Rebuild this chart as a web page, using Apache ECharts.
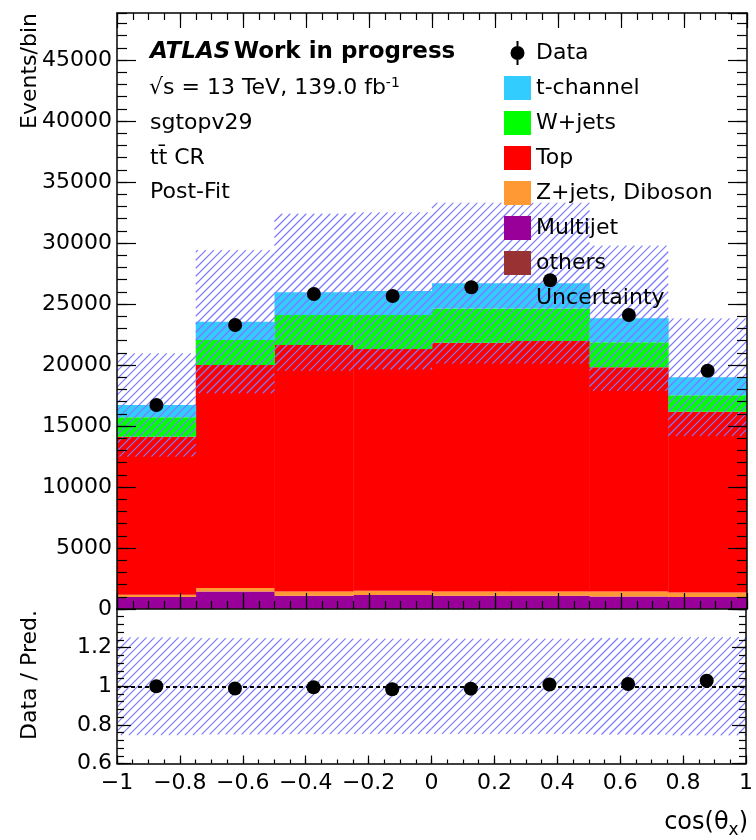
<!DOCTYPE html>
<html>
<head>
<meta charset="utf-8">
<script src="https://cdn.jsdelivr.net/npm/echarts@6/dist/echarts.min.js"></script>
<style>
  html, body { margin: 0; padding: 0; background: #ffffff; }
  #chart { width: 756px; height: 840px; }
</style>
</head>
<body>
<div id="chart"></div>
<script>
// Binning in cos(theta_x)
const binEdges = [-1, -0.75, -0.5, -0.25, 0, 0.25, 0.5, 0.75, 1];

// Observed events per bin
const dataCounts = [16720, 23280, 25820, 25660, 26370, 26950, 24100, 19530];

// Post-fit prediction, per process (events per bin)
const others       = [15, 20, 20, 20, 20, 20, 20, 15];
const multijet     = [970, 1420, 1070, 1120, 1070, 1070, 1010, 960];
const zjetsDiboson = [190, 280, 350, 350, 350, 350, 410, 380];
const topQuark     = [12950, 18280, 20200, 19820, 20390, 20530, 18370, 14820];
const wjets        = [1590, 2050, 2460, 2790, 2790, 2650, 2050, 1340];
const tchannel     = [1010, 1500, 1860, 1970, 2080, 2080, 1970, 1480];

// Relative total uncertainty of the prediction per bin
const relUncertainty = [0.253, 0.249, 0.248, 0.247, 0.247, 0.247, 0.250, 0.254];

// Axis ranges
const mainYMax = 48850;
const ratioYMin = 0.6;
const ratioYMax = 1.4;

const FONT = '"DejaVu Sans", "Liberation Sans", sans-serif';
const HATCH_COLOR = 'rgb(122,122,252)';
const HATCH_STEP = 8;

// Rectangle for one bin: value = [xLow, xHigh, yLow, yHigh]
function binRect(fill) {
  return function (params, api) {
    const p0 = api.coord([api.value(0), api.value(3)]);
    const p1 = api.coord([api.value(1), api.value(2)]);
    return {
      type: 'rect',
      shape: { x: p0[0], y: p0[1], width: p1[0] - p0[0] + 0.4, height: p1[1] - p0[1] },
      style: { fill: fill }
    };
  };
}

// Hatched box for one bin: diagonal "/" lines on a fixed page grid so that
// neighbouring bins line up
function binHatch(params, api) {
  const p0 = api.coord([api.value(0), api.value(3)]);
  const p1 = api.coord([api.value(1), api.value(2)]);
  const x0 = p0[0], y0 = p0[1], x1 = p1[0], y1 = p1[1];
  const children = [];
  const kMin = Math.ceil((x0 + y0) / HATCH_STEP);
  const kMax = Math.floor((x1 + y1) / HATCH_STEP);
  for (let k = kMin; k <= kMax; k++) {
    const c = k * HATCH_STEP;
    const xa = Math.max(x0, c - y1);
    const xb = Math.min(x1, c - y0);
    if (xb <= xa) continue;
    children.push({
      type: 'line',
      shape: { x1: xa, y1: c - xa, x2: xb, y2: c - xb },
      style: { stroke: HATCH_COLOR, lineWidth: 1.15 }
    });
  }
  return { type: 'group', children: children };
}

// Stack order, bottom to top
const components = [
  { name: 'others',          values: others,       color: '#993333' },
  { name: 'Multijet',        values: multijet,     color: '#990099' },
  { name: 'Z+jets, Diboson', values: zjetsDiboson, color: '#ff9933' },
  { name: 'Top',             values: topQuark,     color: '#ff0000' },
  { name: 'W+jets',          values: wjets,        color: '#00ff00' },
  { name: 't-channel',       values: tchannel,     color: '#33ccff' }
];

const nBins = binEdges.length - 1;
const stackTop = new Array(nBins).fill(0);
const stackSeries = components.map(function (c) {
  const rows = c.values.map(function (v, i) {
    const row = [binEdges[i], binEdges[i + 1], stackTop[i], stackTop[i] + v];
    stackTop[i] += v;
    return row;
  });
  return {
    type: 'custom', name: c.name, xAxisIndex: 0, yAxisIndex: 0,
    renderItem: binRect(c.color), data: rows, clip: true,
    encode: { x: [0, 1], y: [2, 3] },
    itemStyle: { color: c.color, opacity: 1 }, z: 2, silent: true
  };
});
const prediction = stackTop;

const binCenters = binEdges.slice(0, -1).map(function (e, i) { return (e + binEdges[i + 1]) / 2; });

const bandMain = prediction.map(function (p, i) {
  return [binEdges[i], binEdges[i + 1], p * (1 - relUncertainty[i]), p * (1 + relUncertainty[i])];
});
const bandRatio = relUncertainty.map(function (u, i) {
  return [binEdges[i], binEdges[i + 1], 1 - u, 1 + u];
});
const dataMain = dataCounts.map(function (d, i) { return [binCenters[i], d]; });
const dataRatio = dataCounts.map(function (d, i) { return [binCenters[i], d / prediction[i]]; });

// Axes helpers
const lineStyle = { color: '#000', width: 1.5 };
function xAx(grid, position, interval, len, opts) {
  return Object.assign({
    type: 'value', gridIndex: grid, position: position, min: -1, max: 1, interval: interval,
    axisLine: { show: true, onZero: false, lineStyle: lineStyle },
    axisTick: { show: true, inside: true, length: len, lineStyle: { color: '#000', width: 1.2 } },
    axisLabel: { show: false },
    splitLine: { show: false }, z: 10
  }, opts || {});
}
function yAx(grid, position, min, max, interval, len, opts) {
  return Object.assign({
    type: 'value', gridIndex: grid, position: position, min: min, max: max, interval: interval,
    axisLine: { show: true, onZero: false, lineStyle: lineStyle },
    axisTick: { show: true, inside: true, length: len, lineStyle: { color: '#000', width: 1.2 } },
    axisLabel: { show: false },
    splitLine: { show: false }, z: 10
  }, opts || {});
}

function fmtX(v) {
  let r = Math.round(v * 10) / 10;
  if (Math.abs(r) < 1e-9) r = 0;
  return String(r).replace('-', '\u2212');
}

const labelStyle = { fontFamily: FONT, fontSize: 22, color: '#000' };

const dataIcon = 'path://M6,0 h2 v5 h-2 Z M6,19 h2 v5 h-2 Z M0,12 a7,7 0 1,0 14,0 a7,7 0 1,0 -14,0 Z';

const option = {
  animation: false,
  backgroundColor: '#ffffff',
  grid: [
    { left: 117, top: 13, width: 630, height: 596, show: false },
    { left: 117, top: 609, width: 630, height: 154.5, show: false }
  ],
  xAxis: [
    xAx(0, 'bottom', 0.2, 16),
    xAx(0, 'bottom', 0.05, 8, { axisLine: { show: false, onZero: false } }),
    xAx(0, 'top', 0.2, 15),
    xAx(0, 'top', 0.05, 7, { axisLine: { show: false, onZero: false } }),
    xAx(1, 'bottom', 0.2, 8, {
      axisLabel: Object.assign({ show: true, margin: 9, formatter: fmtX, showMinLabel: true, showMaxLabel: true }, labelStyle)
    }),
    xAx(1, 'bottom', 0.05, 4, { axisLine: { show: false, onZero: false } })
  ],
  yAxis: [
    yAx(0, 'left', 0, mainYMax, 5000, 19, {
      axisLabel: Object.assign({
        show: true, margin: 5, showMaxLabel: false,
        formatter: function (v) { return String(Math.round(v)); }
      }, labelStyle)
    }),
    yAx(0, 'left', 0, mainYMax, 1000, 10, { axisLine: { show: false, onZero: false } }),
    yAx(0, 'right', 0, mainYMax, 5000, 19),
    yAx(0, 'right', 0, mainYMax, 1000, 10, { axisLine: { show: false, onZero: false } }),
    yAx(1, 'left', ratioYMin, ratioYMax, 0.2, 14, {
      axisLabel: Object.assign({
        show: true, margin: 5, showMaxLabel: false,
        formatter: function (v) { return String(Math.round(v * 10) / 10); }
      }, labelStyle)
    }),
    yAx(1, 'left', ratioYMin, ratioYMax, 0.04, 7, { axisLine: { show: false, onZero: false } }),
    yAx(1, 'right', ratioYMin, ratioYMax, 0.2, 14),
    yAx(1, 'right', ratioYMin, ratioYMax, 0.04, 7, { axisLine: { show: false, onZero: false } })
  ],
  legend: {
    orient: 'vertical', left: 504, top: 41, padding: 0,
    itemWidth: 27, itemHeight: 24, itemGap: 11,
    selectedMode: false,
    textStyle: { fontFamily: FONT, fontSize: 22, color: '#000' },
    data: [
      { name: 'Data', icon: dataIcon, itemStyle: { color: '#000', opacity: 1 } },
      { name: 't-channel', icon: 'rect' },
      { name: 'W+jets', icon: 'rect' },
      { name: 'Top', icon: 'rect' },
      { name: 'Z+jets, Diboson', icon: 'rect' },
      { name: 'Multijet', icon: 'rect' },
      { name: 'others', icon: 'rect' },
      { name: 'Uncertainty', icon: 'rect', itemStyle: { color: 'rgba(255,255,255,0)' } }
    ]
  },
  series: stackSeries.concat([
    {
      type: 'custom', name: 'Uncertainty', xAxisIndex: 0, yAxisIndex: 0,
      renderItem: binHatch, data: bandMain, clip: true,
      encode: { x: [0, 1], y: [2, 3] }, itemStyle: { color: HATCH_COLOR }, z: 3, silent: true
    },
    {
      type: 'scatter', name: 'Data', xAxisIndex: 0, yAxisIndex: 0,
      data: dataMain, symbol: 'circle', symbolSize: 14,
      itemStyle: { color: '#000', opacity: 1 }, z: 4, silent: true
    },
    {
      type: 'custom', name: 'Uncertainty', xAxisIndex: 4, yAxisIndex: 4,
      renderItem: binHatch, data: bandRatio, clip: true,
      encode: { x: [0, 1], y: [2, 3] }, itemStyle: { color: HATCH_COLOR }, z: 3, silent: true
    },
    {
      type: 'scatter', name: 'Data', xAxisIndex: 4, yAxisIndex: 4,
      data: dataRatio, symbol: 'circle', symbolSize: 14,
      itemStyle: { color: '#000', opacity: 1 }, z: 5, silent: true,
      markLine: {
        silent: true, symbol: 'none', label: { show: false },
        lineStyle: { color: '#000', type: [4, 3], width: 2, opacity: 1 },
        data: [{ yAxis: 1 }]
      }
    }
  ]),
  graphic: [
    {
      type: 'text', x: 150, y: 52, z: 20,
      style: {
        text: '{i|ATLAS} {b|Work in progress}', verticalAlign: 'middle', align: 'left',
        rich: {
          i: { fontFamily: FONT, fontSize: 23, fontWeight: 'bold', fontStyle: 'italic', fill: '#000' },
          b: { fontFamily: FONT, fontSize: 23, fontWeight: 'bold', fill: '#000' }
        }
      }
    },
    {
      type: 'text', x: 149, y: 88, z: 20,
      style: {
        text: '{n|\u221As = 13 TeV, 139.0 fb}{s|-1}', verticalAlign: 'middle', align: 'left',
        rich: {
          n: { fontFamily: FONT, fontSize: 22, lineHeight: 26, fill: '#000' },
          s: { fontFamily: FONT, fontSize: 14, lineHeight: 14, padding: [0, 0, 10, 0], fill: '#000' }
        }
      }
    },
    { type: 'text', x: 150, y: 123, z: 20,
      style: { text: 'sgtopv29', font: '22px ' + FONT, fill: '#000', verticalAlign: 'middle', align: 'left' } },
    { type: 'text', x: 150, y: 158, z: 20,
      style: { text: 'tt\u0304 CR', font: '22px ' + FONT, fill: '#000', verticalAlign: 'middle', align: 'left' } },
    { type: 'text', x: 150, y: 192, z: 20,
      style: { text: 'Post-Fit', font: '22px ' + FONT, fill: '#000', verticalAlign: 'middle', align: 'left' } },
    { type: 'text', x: 30, y: 13, rotation: Math.PI / 2, z: 20,
      style: { text: 'Events/bin', font: '22px ' + FONT, fill: '#000', verticalAlign: 'middle', align: 'right' } },
    { type: 'text', x: 30, y: 675, rotation: Math.PI / 2, z: 20,
      style: { text: 'Data / Pred.', font: '22px ' + FONT, fill: '#000', verticalAlign: 'middle', align: 'center' } },
    {
      type: 'text', x: 748, y: 823, z: 20,
      style: {
        text: '{a|cos(\u03B8}{s|x}{a|)}', verticalAlign: 'middle', align: 'right',
        rich: {
          a: { fontFamily: FONT, fontSize: 24, lineHeight: 28, fill: '#000' },
          s: { fontFamily: FONT, fontSize: 17, lineHeight: 17, padding: [15, 0, 0, 0], fill: '#000' }
        }
      }
    }
  ]
};

const chart = echarts.init(document.getElementById('chart'), null, { renderer: 'canvas' });
chart.setOption(option);
</script>
</body>
</html>
